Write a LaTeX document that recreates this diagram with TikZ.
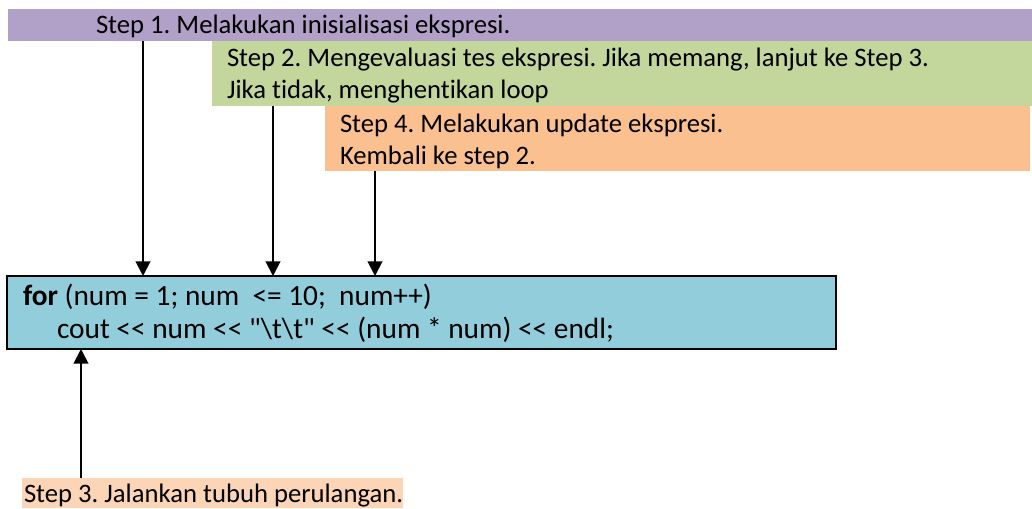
\documentclass[tikz,border=0pt]{standalone}
\usepackage{fontspec}
\setmainfont{Carlito}[Ligatures={TeXOff,NoCommon}]
\usetikzlibrary{arrows.meta,fit}

\definecolor{bandpurple}{HTML}{B1A0C7}
\definecolor{bandgreen}{HTML}{C3D69B}
\definecolor{bandorange}{HTML}{FAC090}
\definecolor{codeblue}{HTML}{92CDDC}
\definecolor{notepeach}{HTML}{FBD5B5}

\tikzset{
  band/.style={inner sep=0pt, outer sep=0pt, draw=none},
  codebox/.style={inner sep=0pt, outer sep=0pt, fill=codeblue, draw=black, line width=1.6pt},
  txt/.style={anchor=base west, inner sep=0pt, outer sep=0pt,
              font=\fontsize{20}{24}\selectfont},
  codetxt/.style={txt, font=\fontsize{22}{26}\selectfont},
  arr/.style={line width=1.5pt, -{Triangle[width=11pt,length=11pt]}},
}

\begin{document}
\frenchspacing
\begin{tikzpicture}[x=0.75pt,y=-0.75pt]
  \useasboundingbox (0,0) rectangle (1032,508);

  % coloured bands at the top
  \coordinate (p1) at (8,9);    \coordinate (p2) at (1032,41);
  \coordinate (g1) at (212,41); \coordinate (g2) at (1032,106);
  \coordinate (o1) at (325,106);\coordinate (o2) at (1030,171);
  \node[band, fill=bandpurple, fit=(p1)(p2)] (s1) {};
  \node[band, fill=bandgreen,  fit=(g1)(g2)] (s2) {};
  \node[band, fill=bandorange, fit=(o1)(o2)] (s4) {};

  \node[txt] (t1)  at (96,33)  {Step 1. Melakukan inisialisasi ekspresi.};
  \node[txt] (t2a) at (227,66) {Step 2. Mengevaluasi tes ekspresi. Jika memang, lanjut ke Step 3.};
  \node[txt] (t2b) at (227,98) {Jika tidak, menghentikan loop};
  \node[txt] (t4a) at (340,132) {Step 4. Melakukan update ekspresi.};
  \node[txt] (t4b) at (340,164) {Kembali ke step 2.};

  % the code box
  \coordinate (k1) at (7,276); \coordinate (k2) at (836,349);
  \node[codebox, fit=(k1)(k2)] (code) {};
  \node[codetxt] (c1) at (23,305) {\textbf{for} (num = 1; num\ \ <= 10;\ \ num++)};
  \node[codetxt] (c2) at (57,338) {cout << num << "\textbackslash t\textbackslash t" << (num * num) << endl;};

  % note under the code box
  \coordinate (n1) at (22,478); \coordinate (n2) at (403,508);
  \node[band, fill=notepeach, fit=(n1)(n2)] (s3) {};
  \node[txt] (t3) at (24,502) {Step 3. Jalankan tubuh perulangan.};

  % connectors
  \coordinate (x1) at (143,0);
  \coordinate (x2) at (273,0);
  \coordinate (x4) at (375,0);
  \coordinate (x3) at (81,0);
  \draw[arr] (x1 |- s1.south) -- (x1 |- code.north);
  \draw[arr] (x2 |- s2.south) -- (x2 |- code.north);
  \draw[arr] (x4 |- s4.south) -- (x4 |- code.north);
  \draw[arr] (x3 |- s3.north) -- (x3 |- code.south);
\end{tikzpicture}
\end{document}
